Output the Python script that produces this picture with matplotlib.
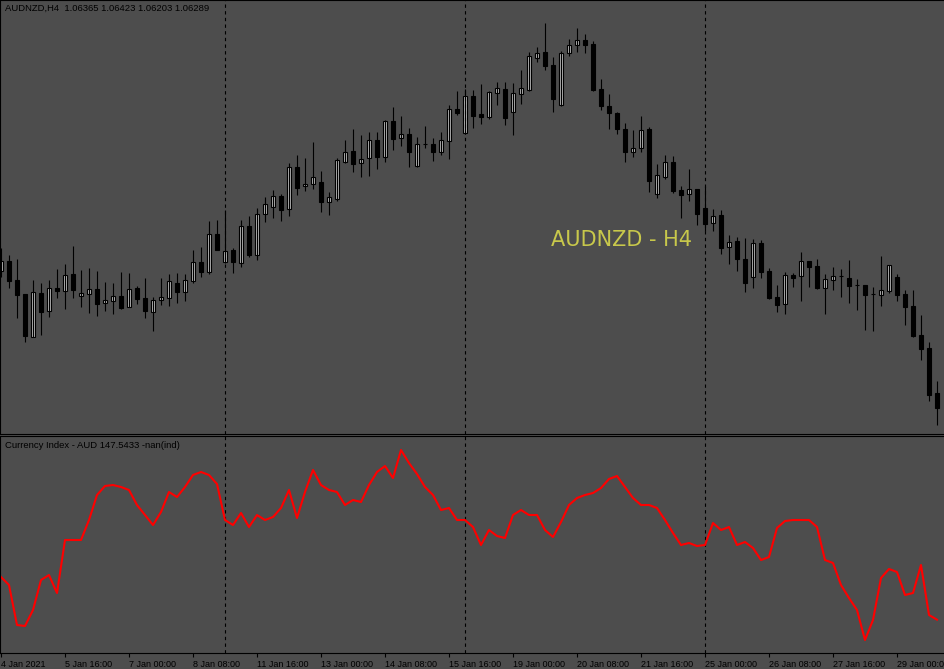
# AUDNZD H4 candles with the AUD currency index below (MetaTrader style)
import numpy as np
import matplotlib.pyplot as plt

# prices in points (1 point = 0.00001)
opens_pts = [106974, 107024, 106929, 106859, 106644, 106864, 106774, 106889, 106874, 106959,
             106849, 106859, 106884, 106814, 106824, 106849, 106794, 106889, 106839, 106769,
             106829, 106839, 106914, 106869, 106924, 107019, 106969, 107159, 107019, 107079,
             107014, 107199, 107054, 107259, 107294, 107349, 107284, 107494, 107399, 107409,
             107419, 107319, 107334, 107519, 107574, 107514, 107539, 107629, 107544, 107724,
             107639, 107659, 107499, 107609, 107609, 107569, 107624, 107784, 107664, 107849,
             107759, 107744, 107864, 107884, 107769, 107859, 107879, 108039, 108069, 108004,
             107804, 108064, 108104, 108129, 108109, 107884, 107799, 107764, 107684, 107569,
             107589, 107684, 107359, 107444, 107519, 107379, 107359, 107384, 107289, 107214,
             107254, 107094, 107124, 107034, 106944, 107114, 106974, 106844, 106809, 106954,
             106949, 107024, 106999, 106889, 106929, 106949, 106939, 106904, 106904, 106859,
             106854, 106874, 106944, 106859, 106799, 106654, 106589, 106365]
highs_pts = [107089, 107054, 107034, 106859, 106929, 106914, 106929, 106984, 107009, 107099,
             106979, 106989, 106974, 106919, 106914, 106969, 106964, 106899, 106939, 106844,
             106939, 106959, 106964, 106959, 107079, 107094, 107224, 107229, 107279, 107089,
             107229, 107249, 107289, 107344, 107379, 107359, 107514, 107554, 107539, 107619,
             107474, 107369, 107539, 107629, 107684, 107654, 107669, 107669, 107729, 107794,
             107749, 107689, 107644, 107699, 107639, 107669, 107804, 107874, 107884, 107879,
             107909, 107874, 107919, 107919, 107914, 107979, 108069, 108094, 108214, 108044,
             108074, 108134, 108189, 108159, 108124, 107934, 107859, 107769, 107714, 107679,
             107749, 107694, 107509, 107554, 107549, 107399, 107484, 107384, 107399, 107284,
             107279, 107154, 107144, 107139, 107134, 107129, 106989, 106904, 106969, 106964,
             107069, 107024, 107034, 106959, 106994, 106984, 107029, 106934, 106904, 106894,
             107049, 107004, 106959, 106879, 106879, 106754, 106619, 106423]
lows_pts = [106944, 106889, 106739, 106619, 106644, 106654, 106744, 106839, 106784, 106839,
            106794, 106764, 106749, 106774, 106759, 106784, 106794, 106809, 106739, 106674,
            106804, 106799, 106814, 106824, 106914, 106944, 106959, 107079, 107014, 106964,
            106994, 107044, 107029, 107219, 107239, 107224, 107249, 107354, 107374, 107384,
            107269, 107254, 107324, 107514, 107469, 107444, 107449, 107484, 107519, 107579,
            107599, 107494, 107494, 107589, 107524, 107554, 107534, 107754, 107659, 107689,
            107709, 107734, 107804, 107704, 107654, 107809, 107874, 108019, 107979, 107769,
            107799, 108049, 108069, 108064, 107874, 107779, 107684, 107659, 107519, 107544,
            107569, 107369, 107339, 107434, 107364, 107239, 107324, 107204, 107174, 107174,
            107059, 107009, 106974, 106869, 106889, 106939, 106834, 106769, 106759, 106894,
            106824, 106894, 106884, 106759, 106879, 106844, 106814, 106779, 106679, 106674,
            106799, 106864, 106824, 106704, 106644, 106529, 106324, 106203]
closes_pts = [107024, 106924, 106854, 106649, 106869, 106769, 106889, 106874, 106954, 106879,
              106864, 106884, 106809, 106829, 106849, 106789, 106884, 106834, 106774, 106829,
              106844, 106924, 106869, 106929, 107019, 106969, 107159, 107079, 107074, 107019,
              107199, 107054, 107259, 107309, 107349, 107279, 107494, 107389, 107409, 107444,
              107319, 107344, 107529, 107569, 107509, 107534, 107629, 107544, 107724, 107634,
              107659, 107569, 107609, 107609, 107569, 107629, 107784, 107764, 107849, 107749,
              107744, 107869, 107889, 107739, 107864, 107889, 108049, 108064, 107999, 107834,
              108064, 108104, 108129, 108104, 107879, 107799, 107764, 107684, 107569, 107589,
              107679, 107424, 107454, 107519, 107374, 107354, 107384, 107259, 107209, 107249,
              107089, 107119, 107034, 106914, 107114, 106969, 106839, 106804, 106954, 106939,
              107024, 106994, 106889, 106934, 106949, 106949, 106899, 106904, 106854, 106859,
              106879, 107004, 106854, 106794, 106649, 106584, 106354, 106289]

# Currency Index - AUD
index_values = [147.97, 147.89, 147.49, 147.48, 147.64, 147.94, 147.99, 147.81, 148.34, 148.34,
                148.34, 148.54, 148.79, 148.88, 148.89, 148.87, 148.84, 148.69, 148.59, 148.49,
                148.62, 148.82, 148.77, 148.87, 148.99, 149.02, 148.99, 148.90, 148.54, 148.49,
                148.61, 148.47, 148.59, 148.54, 148.57, 148.66, 148.84, 148.56, 148.82, 149.04,
                148.89, 148.84, 148.82, 148.69, 148.74, 148.72, 148.89, 149.02, 149.08, 148.96,
                149.24, 149.11, 149.00, 148.87, 148.79, 148.64, 148.66, 148.54, 148.54, 148.47,
                148.29, 148.44, 148.38, 148.36, 148.59, 148.64, 148.59, 148.59, 148.44, 148.37,
                148.52, 148.69, 148.76, 148.79, 148.81, 148.86, 148.95, 148.98, 148.87, 148.76,
                148.69, 148.69, 148.66, 148.54, 148.41, 148.29, 148.31, 148.28, 148.29, 148.51,
                148.44, 148.47, 148.29, 148.32, 148.26, 148.14, 148.17, 148.46, 148.53, 148.54,
                148.54, 148.54, 148.47, 148.14, 148.11, 147.89, 147.76, 147.64, 147.34, 147.54,
                147.96, 148.05, 148.02, 147.79, 147.81, 148.09, 147.59, 147.5433]

tick_bars = list(range(0, 113, 8))
tick_labels = ['4 Jan 2021', '5 Jan 16:00', '7 Jan 00:00', '8 Jan 08:00', '11 Jan 16:00',
               '13 Jan 00:00', '14 Jan 08:00', '15 Jan 16:00', '19 Jan 00:00', '20 Jan 08:00',
               '21 Jan 16:00', '25 Jan 00:00', '26 Jan 08:00', '27 Jan 16:00', '29 Jan 00:00']
week_starts = [28, 58, 88]

opens = np.array(opens_pts) / 1e5
highs = np.array(highs_pts) / 1e5
lows = np.array(lows_pts) / 1e5
closes = np.array(closes_pts) / 1e5
x = np.arange(len(opens))

plt.rcParams['font.family'] = ['Liberation Sans', 'DejaVu Sans']

bg = '#4d4d4d'
W, H = 944, 669
fig = plt.figure(figsize=(W / 100, H / 100), dpi=100, facecolor=bg)
ax1 = fig.add_axes([0, (H - 434) / H, 1, 434 / H])
ax2 = fig.add_axes([0, (H - 653) / H, 1, 217 / H])

for ax in (ax1, ax2):
    ax.set_facecolor(bg)
    ax.set_xlim(-0.125, len(opens) - 0.125)
    for side in ('left', 'top', 'bottom'):
        ax.spines[side].set_color('black')
        ax.spines[side].set_linewidth(0.8)
    ax.spines['right'].set_visible(False)
    ax.set_yticks([])
    for wk in week_starts:
        ax.axvline(wk, color='black', lw=0.8, ls=(0, (3, 3)))

# candles
up = closes >= opens
ax1.vlines(x, lows, highs, color='black', lw=0.8)
ax1.bar(x, np.abs(closes - opens), bottom=np.minimum(opens, closes), width=0.5,
        color=np.where(up, '#b4b4b4', 'black'), edgecolor='black', linewidth=0.8)
ax1.set_ylim(1.06159, 1.08329)
ax1.set_xticks([])

# currency index
ax2.plot(x, index_values, color='red', lw=1.5)
ax2.set_ylim(147.21, 149.38)
ax2.set_xticks(tick_bars, tick_labels)
ax2.tick_params(axis='x', direction='out', length=3, width=0.8, color='black',
                labelsize=6.5, labelcolor='black', pad=2)
for lbl in ax2.get_xticklabels():
    lbl.set_horizontalalignment('left')

fig.text(5 / W, 1 - 8 / H, 'AUDNZD,H4  1.06365 1.06423 1.06203 1.06289',
         fontsize=6.8, color='black', va='center')
fig.text(5 / W, 1 - 445 / H, 'Currency Index - AUD 147.5433 -nan(ind)',
         fontsize=6.8, color='black', va='center')
fig.text(551 / W, 1 - 246 / H, 'AUDNZD - H4', fontsize=15, color='#c8c84b',
         family='DejaVu Sans', va='baseline')

fig.savefig('out.png', dpi=100, facecolor=bg)
